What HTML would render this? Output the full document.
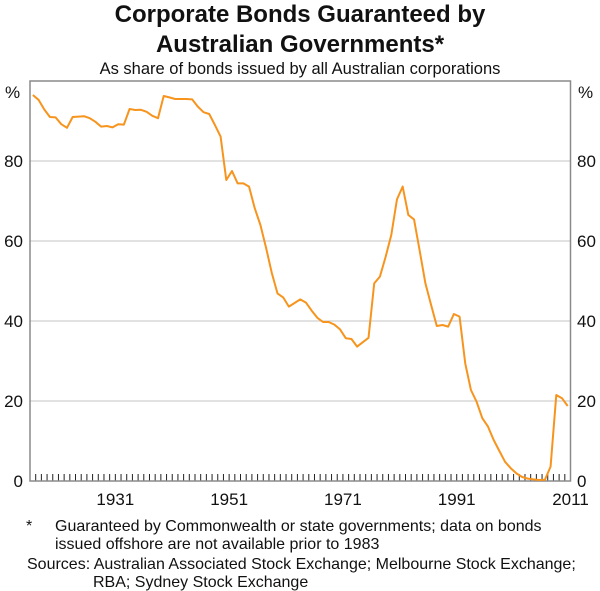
<!DOCTYPE html>
<html><head><meta charset="utf-8"><style>
body{margin:0;background:#fff;}
svg{display:block;font-family:"Liberation Sans",Arial,sans-serif;}
</style></head><body>
<svg id="chart" width="600" height="591" viewBox="0 0 600 591">
<text x="300" y="22" text-anchor="middle" font-size="24" font-weight="bold" fill="#111">Corporate Bonds Guaranteed by</text>
<text x="300" y="52" text-anchor="middle" font-size="24" font-weight="bold" fill="#111">Australian Governments*</text>
<text x="300" y="74" text-anchor="middle" font-size="16.5" fill="#111">As share of bonds issued by all Australian corporations</text>
<g id="grid"></g>
<g id="ticks"></g>
<g id="labels"></g>
<rect x="30" y="81" width="540.5" height="400" fill="none" stroke="#8a8a8a" stroke-width="1.5"/>
<path id="line" fill="none" stroke="#f7941d" stroke-width="2" stroke-linejoin="round"/>
<text x="300" y="0" font-size="16" fill="#111">
<tspan x="26" y="531">*</tspan><tspan x="55" y="531">Guaranteed by Commonwealth or state governments; data on bonds</tspan>
<tspan x="55" y="549">issued offshore are not available prior to 1983</tspan>
<tspan x="27" y="569">Sources: Australian Associated Stock Exchange; Melbourne Stock Exchange;</tspan>
<tspan x="93" y="587">RBA; Sydney Stock Exchange</tspan>
</text>
</svg>
<script>
const startYear = 1916;
const values = [96.5,95.3,92.9,91,90.9,89.2,88.3,91,91.1,91.2,90.7,89.8,88.6,88.75,88.4,89.2,89.1,93,92.75,92.8,92.3,91.3,90.7,96.25,95.9,95.5,95.5,95.5,95.4,93.6,92.2,91.75,89,86.1,75.25,77.5,74.4,74.4,73.6,68.2,64,58.25,52,46.9,45.9,43.6,44.5,45.4,44.6,42.6,40.8,39.75,39.75,39.1,37.9,35.7,35.5,33.6,34.7,35.8,49.4,51.1,56,61.5,70.4,73.6,66.5,65.4,57.5,49.4,44,38.75,39,38.6,41.75,41.1,29.4,22.75,19.8,15.7,13.6,10.25,7.5,4.8,3.2,1.9,1.0,0.6,0.4,0.25,0.3,3.6,21.5,20.7,18.75];
const yTicks = [20,40,60,80];
const xLabels = [1931,1951,1971,1991,2011];
const NS="http://www.w3.org/2000/svg";
const x0=30,x1=570.5,y0=481,y1=81,yrMin=1916,yrMax=2011,vMax=100;
function X(yr){return x0+(yr-yrMin)*(x1-x0)/(yrMax-yrMin);}
function Y(v){return y0-(v/vMax)*(y0-y1);}
const grid=document.getElementById('grid'),ticks=document.getElementById('ticks'),labels=document.getElementById('labels');
function mk(tag,attrs,parent){const e=document.createElementNS(NS,tag);for(const k in attrs)e.setAttribute(k,attrs[k]);parent.appendChild(e);return e;}
yTicks.forEach(v=>{
  const l=mk('line',{x1:x0,x2:x1,y1:Y(v),y2:Y(v),stroke:'#d0d0d0','stroke-width':1.2},grid);
  
  
});
[...yTicks,0].forEach(v=>{
  const a=mk('text',{x:23,y:Y(v)+6,'text-anchor':'end','font-size':17,fill:'#111'},labels);a.textContent=v;
  
  
  const b=mk('text',{x:577,y:Y(v)+6,'font-size':17,fill:'#111'},labels);b.textContent=v;
  
  
});
const pl=mk('text',{x:5,y:98,'font-size':17,fill:'#111'},labels);pl.textContent='%';


const pr=mk('text',{x:578,y:98,'font-size':17,fill:'#111'},labels);pr.textContent='%';


for(let yr=yrMin+1;yr<yrMax;yr++){
  const t=mk('line',{x1:X(yr),x2:X(yr),y1:y0,y2:y0-7,stroke:'#222','stroke-width':1},ticks);
  
  
}
xLabels.forEach(yr=>{
  const t=mk('text',{x:X(yr),y:505,'text-anchor':'middle','font-size':17,fill:'#111'},labels);t.textContent=yr;
  
  
});
document.getElementById('line').setAttribute('d',values.map((v,i)=>(i?'L':'M')+X(startYear+i+0.5).toFixed(2)+','+Y(v).toFixed(2)).join(''));
</script>
</body></html>
